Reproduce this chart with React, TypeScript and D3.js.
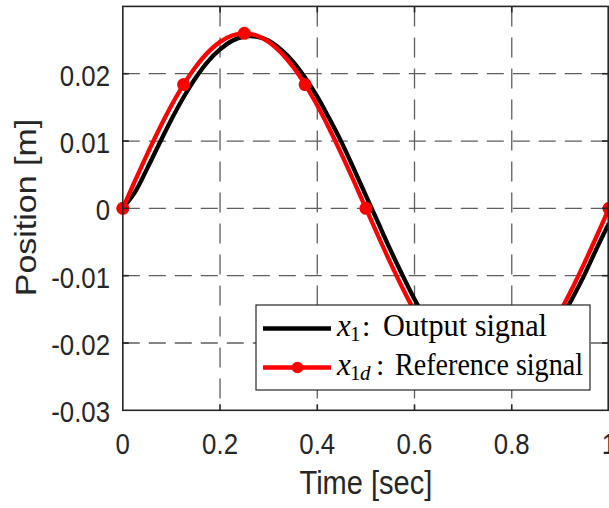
import React from "react";
import * as d3 from "d3";

// ---- data ----
const timeSamples = [
  0, 0.025, 0.05, 0.075, 0.1, 0.125, 0.15, 0.175, 0.2, 0.225, 0.25, 0.275, 0.3, 0.325, 0.35, 0.375,
  0.4, 0.425, 0.45, 0.475, 0.5, 0.525, 0.55, 0.575, 0.6, 0.625, 0.65, 0.675, 0.7, 0.725, 0.75, 0.775,
  0.8, 0.825, 0.85, 0.875, 0.9, 0.925, 0.95, 0.975, 1.0,
];
const referenceSignal = [
  0, 0.00407, 0.00803, 0.0118, 0.01528, 0.01838, 0.02103, 0.02317, 0.02473, 0.02568, 0.026,
  0.02568, 0.02473, 0.02317, 0.02103, 0.01838, 0.01528, 0.0118, 0.00803, 0.00407, 0,
  -0.00407, -0.00803, -0.0118, -0.01528, -0.01838, -0.02103, -0.02317, -0.02473, -0.02568, -0.026,
  -0.02568, -0.02473, -0.02317, -0.02103, -0.01838, -0.01528, -0.0118, -0.00803, -0.00407, 0,
];
const outputSignal = [
  0, 0.0024, 0.0059, 0.0096, 0.0132, 0.0165, 0.0194, 0.0218, 0.0236, 0.0249, 0.0255,
  0.0255, 0.0249, 0.0236, 0.0218, 0.0194, 0.0166, 0.0133, 0.0098, 0.0059, 0.0019,
  -0.0021, -0.0061, -0.0099, -0.0135, -0.0167, -0.0195, -0.0219, -0.0237, -0.0249, -0.0255,
  -0.0255, -0.0249, -0.0236, -0.0218, -0.0194, -0.0166, -0.0133, -0.0098, -0.0059, -0.0022,
];
const markerTimes = [0, 0.125, 0.25, 0.375, 0.5, 0.625, 0.75, 0.875, 1.0];
const markerValues = [0, 0.01838, 0.026, 0.01838, 0, -0.01838, -0.026, -0.01838, 0];
const xTicks = [0, 0.2, 0.4, 0.6, 0.8, 1];
const xTickLabels = ["0", "0.2", "0.4", "0.6", "0.8", "1"];
const yTicks = [-0.03, -0.02, -0.01, 0, 0.01, 0.02];
const yTickLabels = ["-0.03", "-0.02", "-0.01", "0", "0.01", "0.02"];
const xLabel = "Time [sec]";
const yLabel = "Position [m]";
const legendOutput = "Output signal";
const legendReference = "Reference signal";

const W = 609;
const H = 508;
const L = 122.8;
const R = 609;
const T = 6.4;
const B = 410.3;

export default function App() {
  const x = d3.scaleLinear().domain([0, 1]).range([L, R]);
  const y = d3.scaleLinear().domain([-0.03, 0.03]).range([B, T]);
  const line = d3
    .line<number>()
    .x((_, i) => x(timeSamples[i]))
    .y((d) => y(d))
    .curve(d3.curveCatmullRom);
  const axisColor = "#262626";
  const gridColor = "#5e5e5e";
  const sans = "'Liberation Sans', Arial, sans-serif";
  const serif = "'Liberation Serif', 'Times New Roman', serif";
  const sx = 0.86;

  return (
    <div style={{ position: "fixed", left: 0, top: 0, width: W, height: H, background: "#fff" }}>
      <svg width={W} height={H} style={{ display: "block" }}>
        <defs>
          <clipPath id="plotClip">
            <rect x={L} y={T} width={R - L} height={B - T} />
          </clipPath>
        </defs>
        <rect x={0} y={0} width={W} height={H} fill="#fff" />
        {/* grid */}
        {xTicks.slice(1, -1).map((t) => (
          <line key={"gx" + t} x1={x(t)} x2={x(t)} y1={T} y2={B} stroke={gridColor} strokeWidth={1.3} strokeDasharray="20 11" />
        ))}
        {yTicks.slice(1).map((t) => (
          <line key={"gy" + t} x1={L} x2={R} y1={y(t)} y2={y(t)} stroke={gridColor} strokeWidth={1.3} strokeDasharray="17 9" />
        ))}
        {/* lines */}
        <g clipPath="url(#plotClip)">
          <path d={line(outputSignal) || ""} fill="none" stroke="#000" strokeWidth={4.3} strokeLinejoin="round" />
          <path d={line(referenceSignal) || ""} fill="none" stroke="#ff0000" strokeWidth={4.3} strokeLinejoin="round" />
        </g>
        {markerTimes.map((t, i) => (
          <circle key={"m" + i} cx={x(t)} cy={y(markerValues[i])} r={6.5} fill="#ff0000" />
        ))}
        {/* axes box */}
        <rect x={L} y={T} width={R - L - 0.8} height={B - T} fill="none" stroke={axisColor} strokeWidth={1.6} />
        {/* ticks */}
        {xTicks.slice(1, -1).map((t) => (
          <g key={"tx" + t}>
            <line x1={x(t)} x2={x(t)} y1={B} y2={B - 6} stroke={axisColor} strokeWidth={1.6} />
            <line x1={x(t)} x2={x(t)} y1={T} y2={T + 6} stroke={axisColor} strokeWidth={1.6} />
          </g>
        ))}
        {yTicks.slice(1).map((t) => (
          <g key={"ty" + t}>
            <line x1={L} x2={L + 6} y1={y(t)} y2={y(t)} stroke={axisColor} strokeWidth={1.6} />
            <line x1={R - 1} x2={R - 7} y1={y(t)} y2={y(t)} stroke={axisColor} strokeWidth={1.6} />
          </g>
        ))}
        {/* tick labels */}
        {xTicks.map((t, i) => (
          <text
            key={"xl" + t}
            transform={`translate(${x(t)},${454}) scale(${sx},1)`}
            textAnchor="middle"
            fontFamily={sans}
            fontSize={30}
            fill={axisColor}
          >
            {xTickLabels[i]}
          </text>
        ))}
        {yTicks.map((t, i) => (
          <text
            key={"yl" + t}
            transform={`translate(${110},${y(t) + 12}) scale(${sx},1)`}
            textAnchor="end"
            fontFamily={sans}
            fontSize={30}
            fill={axisColor}
          >
            {yTickLabels[i]}
          </text>
        ))}
        {/* axis labels */}
        <text
          transform={`translate(${(L + R) / 2},${494}) scale(0.88,1)`}
          textAnchor="middle"
          fontFamily={sans}
          fontSize={33}
          fill={axisColor}
        >
          {xLabel}
        </text>
        <text
          transform={`translate(${36},${207.5}) scale(0.85,1) rotate(-90)`}
          textAnchor="middle"
          fontFamily={sans}
          fontSize={34}
          fill={axisColor}
        >
          {yLabel}
        </text>
        {/* legend */}
        <rect x={256} y={305} width={334} height={85} fill="#fff" stroke={axisColor} strokeWidth={1.2} />
        <line x1={263} x2={331} y1={328.5} y2={328.5} stroke="#000" strokeWidth={4.3} />
        <line x1={263} x2={331} y1={367.5} y2={367.5} stroke="#ff0000" strokeWidth={4.3} />
        <circle cx={297.5} cy={367.5} r={5.8} fill="#ff0000" />
        <g fontFamily={serif} fill="#000">
          <text x={337} y={336} fontSize={31} fontStyle="italic">x</text>
          <text x={350} y={341} fontSize={21}>1</text>
          <text x={362} y={336} fontSize={30}>:</text>
          <text x={383} y={336} fontSize={31} textLength={164} lengthAdjust="spacingAndGlyphs">{legendOutput}</text>
          <text x={337} y={374.5} fontSize={31} fontStyle="italic">x</text>
          <text x={350} y={380} fontSize={21}>1</text>
          <text x={360} y={380} fontSize={21} fontStyle="italic">d</text>
          <text x={376} y={374.5} fontSize={30}>:</text>
          <text x={395} y={374.5} fontSize={31} textLength={188} lengthAdjust="spacingAndGlyphs">{legendReference}</text>
        </g>
      </svg>
    </div>
  );
}
